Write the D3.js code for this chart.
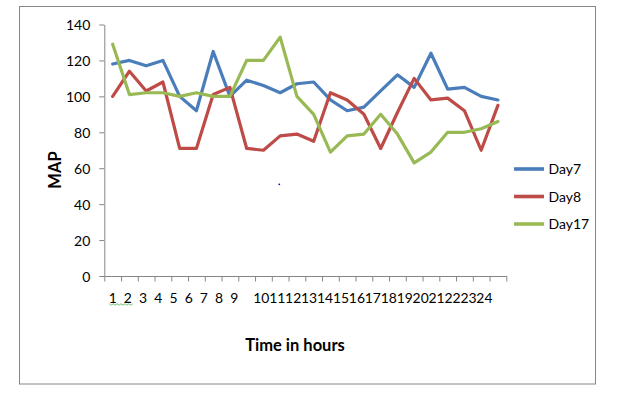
<!DOCTYPE html>
<html>
<head>
<meta charset="utf-8">
<script src="https://cdn.jsdelivr.net/npm/d3@7"></script>
<style>
  html, body { margin: 0; padding: 0; background: #fff; }
  svg { display: block; }
  text { font-family: Lato, "Liberation Sans", sans-serif; fill: #000; }
</style>
</head>
<body>
<svg id="chart" width="619" height="404"></svg>
<script>
// ---- data ----
const hours = ["1","2","3","4","5","6","7","8","9","10","11","12","13","14","15","16","17","18","19","20","21","22","23","24"];
const day7  = [118,120,117,120,100,92,125,100,109,106,102,107,108,98,92,94,103,112,105,124,104,105,100,98];
const day8  = [100,114,103,108,71,71,101,105,71,70,78,79,75,102,98,90,71,91,110,98,99,92,70,95];
const day17 = [129,101,102,102,100,102,100,100,120,120,133,100,90,69,78,79,90,79,63,69,80,80,82,86];
const seriesNames = ["Day7","Day8","Day17"];
const seriesColors = ["#4A7EBB","#BE4B48","#98B954"];
const yTicks = [0,20,40,60,80,100,120,140];

const series = [day7, day8, day17].map((v, i) => ({ name: seriesNames[i], color: seriesColors[i], values: v }));

const svg = d3.select("#chart");
svg.append("rect").attr("width", 619).attr("height", 404).attr("fill", "#fff");

// outer chart border
svg.append("rect")
  .attr("x", 19.5).attr("y", 6.5).attr("width", 576).attr("height", 377.5)
  .attr("fill", "none").attr("stroke", "#868686").attr("stroke-width", 1);

const plot = { left: 104.3, right: 506.3, top: 24.5, bottom: 276 };

const x = d3.scaleBand().domain(hours).range([plot.left, plot.right]).padding(0);
const xEdges = d3.scaleLinear().domain([0, hours.length]).range([plot.left, plot.right]);
const y = d3.scaleLinear().domain([0, 140]).range([plot.bottom, plot.top]);

// y axis
const yAxis = svg.append("g")
  .attr("transform", `translate(${plot.left},0)`)
  .call(d3.axisLeft(y).tickValues(yTicks).tickSize(5).tickSizeOuter(0).tickPadding(9));
yAxis.select(".domain").attr("stroke", "#868686");
yAxis.selectAll(".tick line").attr("stroke", "#868686");
yAxis.selectAll(".tick text")
  .style("font-family", "Lato, 'Liberation Sans', sans-serif")
  .style("font-size", "14px").attr("fill", "#000").attr("dy", "0.38em");

// x axis (tick marks at category boundaries)
const xAxis = svg.append("g")
  .attr("transform", `translate(0,${plot.bottom})`)
  .call(d3.axisBottom(xEdges).tickValues(d3.range(hours.length + 1)).tickFormat("").tickSize(5.5).tickSizeOuter(0));
xAxis.select(".domain").attr("stroke", "#868686");
xAxis.selectAll(".tick line").attr("stroke", "#868686");

// category labels (as laid out in the original: compressed after 9)
const labelX = d3.scaleLinear().domain([0, 8, 9, 23]).range([112.7, 234.3, 261.3, 484.4]);
svg.append("g").selectAll("text").data(hours).join("text")
  .attr("x", (d, i) => labelX(i))
  .attr("y", 302.5)
  .attr("text-anchor", "middle")
  .style("font-size", "13.9px")
  .text(d => d);

// spell-check squiggle under "1 2"
const sq = d3.range(0, 13).map(i => [109.3 + i * 1.95, 304 + (i % 2 ? 1.2 : -0.2)]);
svg.append("path").attr("d", d3.line()(sq)).attr("fill", "none").attr("stroke", "#4CAF50").attr("stroke-width", 0.8);

// lines
const line = d3.line()
  .x((d, i) => x(hours[i]) + x.bandwidth() / 2)
  .y(d => y(d));
svg.append("g").selectAll("path").data(series).join("path")
  .attr("d", d => line(d.values))
  .attr("fill", "none")
  .attr("stroke", d => d.color)
  .attr("stroke-width", 3.2)
  .attr("stroke-linejoin", "round")
  .attr("stroke-linecap", "round");

// stray dot
svg.append("circle").attr("cx", 279.3).attr("cy", 184.3).attr("r", 0.9).attr("fill", "#0000ff");

// axis titles
svg.append("text")
  .attr("transform", "translate(61,170) rotate(-90)")
  .attr("text-anchor", "middle")
  .style("font-size", "16.5px").style("font-weight", "bold")
  .text("MAP");
svg.append("text")
  .attr("x", 295).attr("y", 350.5)
  .attr("text-anchor", "middle")
  .style("font-size", "16.5px").style("font-weight", "bold")
  .text("Time in hours");

// legend
const legY = d3.scalePoint().domain(seriesNames).range([169, 224]);
const leg = svg.append("g").selectAll("g").data(series).join("g")
  .attr("transform", d => `translate(0,${legY(d.name)})`);
leg.append("line").attr("x1", 514).attr("x2", 544).attr("y1", 0).attr("y2", 0)
  .attr("stroke", d => d.color).attr("stroke-width", 3.6);
leg.append("text").attr("x", 548.5).attr("y", 0).attr("dy", "0.36em")
  .style("font-size", "14px").text(d => d.name);
</script>
</body>
</html>
